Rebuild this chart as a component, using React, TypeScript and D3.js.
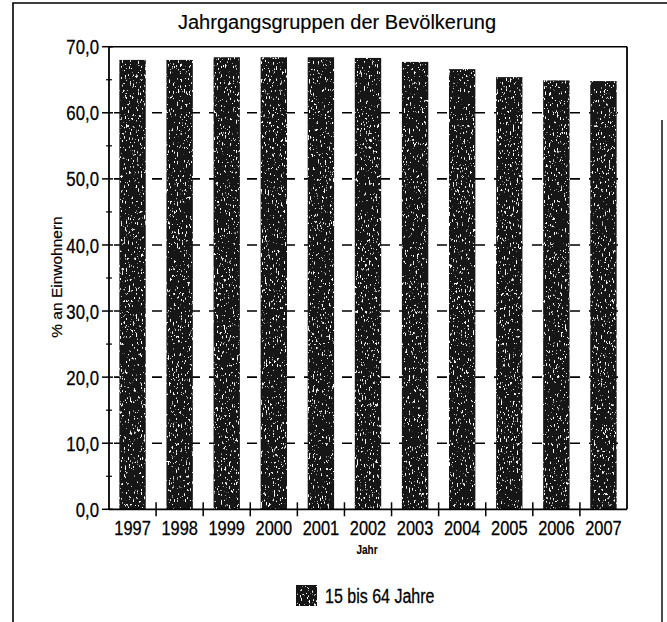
import React from "react";
import * as d3 from "d3";

const years = ["1997", "1998", "1999", "2000", "2001", "2002", "2003", "2004", "2005", "2006", "2007"];
const shares = [68.0, 68.0, 68.4, 68.4, 68.4, 68.3, 67.7, 66.6, 65.4, 64.9, 64.8];
const yTicks = [0, 10, 20, 30, 40, 50, 60, 70];
const yMinorTicks = [5, 15, 25, 35, 45, 55, 65];
const gridValues = [10, 20, 30, 40, 50, 60];
const title = "Jahrgangsgruppen der Bevölkerung";
const yTitle = "% an Einwohnern";
const xTitle = "Jahr";
const seriesName = "15 bis 64 Jahre";

const W = 667;
const H = 622;
const left = 109;
const right = 627;
const top = 46.7;
const bottom = 509.3;

const sans = "'Liberation Sans', Arial, sans-serif";
const NARROW = 0.8;

function NText(props: {
  x: number;
  y: number;
  size: number;
  anchor?: "start" | "middle" | "end";
  bold?: boolean;
  dy?: string;
  children: React.ReactNode;
}) {
  return (
    <text
      transform={`translate(${props.x},${props.y}) scale(${NARROW},1)`}
      dy={props.dy}
      textAnchor={props.anchor || "start"}
      fontFamily={sans}
      fontSize={props.size}
      fontWeight={props.bold ? "bold" : "normal"}
      fill="#000"
      stroke="#000"
      strokeWidth={props.bold ? 0.1 : 0.3}
    >
      {props.children}
    </text>
  );
}

export default function App() {
  const x = d3.scaleBand<string>().domain(years).range([left, right]).paddingInner(0.44).paddingOuter(0.22);
  const y = d3.scaleLinear().domain([0, 70]).range([bottom, top]);
  const fmt = (v: number) => d3.format(".1f")(v).replace(".", ",");
  const step = x.step();
  const boundaries = years.slice(1).map((yr) => (x(yr) as number) - (step - x.bandwidth()) / 2);

  return (
    <svg width={W} height={H} style={{ position: "absolute", left: 0, top: 0, background: "#fff" }}>
      <defs>
        <filter id="speckle" x="0" y="0" width="1" height="1" filterUnits="objectBoundingBox">
          <feTurbulence type="fractalNoise" baseFrequency="0.75 0.28" numOctaves="2" seed="7" result="noise" />
          <feColorMatrix
            in="noise"
            type="matrix"
            values="0 0 0 0 1  0 0 0 0 1  0 0 0 0 1  14 0 0 0 -9.0"
            result="specks"
          />
          <feComposite in="specks" in2="SourceAlpha" operator="in" result="clipped" />
          <feMerge>
            <feMergeNode in="SourceGraphic" />
            <feMergeNode in="clipped" />
          </feMerge>
        </filter>
      </defs>
      <rect x={0} y={0} width={W} height={H} fill="#fff" />
      {/* outer frame */}
      <path d={`M13,${H} L13,3 L${W},3`} fill="none" stroke="#000" strokeWidth={1.6} />
      <line x1={662} y1={120} x2={662} y2={H} stroke="#000" strokeWidth={1.4} />

      {/* title */}
      <text x={337} y={29} textAnchor="middle" fontFamily={sans} fontSize={20} fill="#000" stroke="#000" strokeWidth={0.15}>
        {title}
      </text>

      {/* gridlines */}
      {gridValues.map((v) => (
        <line
          key={"g" + v}
          x1={left + 5}
          x2={right}
          y1={y(v)}
          y2={y(v)}
          stroke="#000"
          strokeWidth={1.6}
          strokeDasharray="10,9"
        />
      ))}

      {/* bars */}
      {years.map((yr, i) => (
        <rect
          key={yr}
          x={x(yr)}
          y={y(shares[i])}
          width={x.bandwidth()}
          height={bottom - y(shares[i])}
          fill="#141414"
          filter="url(#speckle)"
        />
      ))}

      {/* plot border */}
      <line x1={left} y1={top} x2={right} y2={top} stroke="#000" strokeWidth={1.4} />
      <line x1={right} y1={top} x2={right} y2={bottom} stroke="#000" strokeWidth={1.8} />
      <line x1={left} y1={top} x2={left} y2={bottom} stroke="#000" strokeWidth={1.8} />
      <line x1={left} y1={bottom} x2={right} y2={bottom} stroke="#000" strokeWidth={1.8} />

      {/* y ticks */}
      {yTicks.map((v) => (
        <g key={"yt" + v}>
          <line x1={left - 7} x2={left + 4} y1={y(v)} y2={y(v)} stroke="#000" strokeWidth={1.5} />
          <NText x={left - 10} y={y(v)} dy="0.36em" anchor="end" size={21}>
            {fmt(v)}
          </NText>
        </g>
      ))}
      {yMinorTicks.map((v) => (
        <line key={"ym" + v} x1={left - 3} x2={left + 3} y1={y(v)} y2={y(v)} stroke="#000" strokeWidth={1.2} />
      ))}

      {/* x ticks */}
      {boundaries.map((bx, i) => (
        <line key={"xt" + i} x1={bx} x2={bx} y1={bottom - 7} y2={bottom + 7} stroke="#000" strokeWidth={1.5} />
      ))}
      {years.map((yr) => (
        <NText key={"xl" + yr} x={(x(yr) as number) + x.bandwidth() / 2} y={535} anchor="middle" size={20.5}>
          {yr}
        </NText>
      ))}

      {/* axis titles */}
      <NText x={367} y={554} anchor="middle" size={12.5} bold>
        {xTitle}
      </NText>
      <text
        transform={`translate(62,277) rotate(-90)`}
        textAnchor="middle"
        fontFamily={sans}
        fontSize={15.5}
        fill="#000"
        stroke="#000"
        strokeWidth={0.2}
      >
        {yTitle}
      </text>

      {/* legend */}
      <rect x={296} y={585} width={21} height={21} fill="#141414" filter="url(#speckle)" />
      <NText x={325} y={603} size={20}>
        {seriesName}
      </NText>
    </svg>
  );
}
